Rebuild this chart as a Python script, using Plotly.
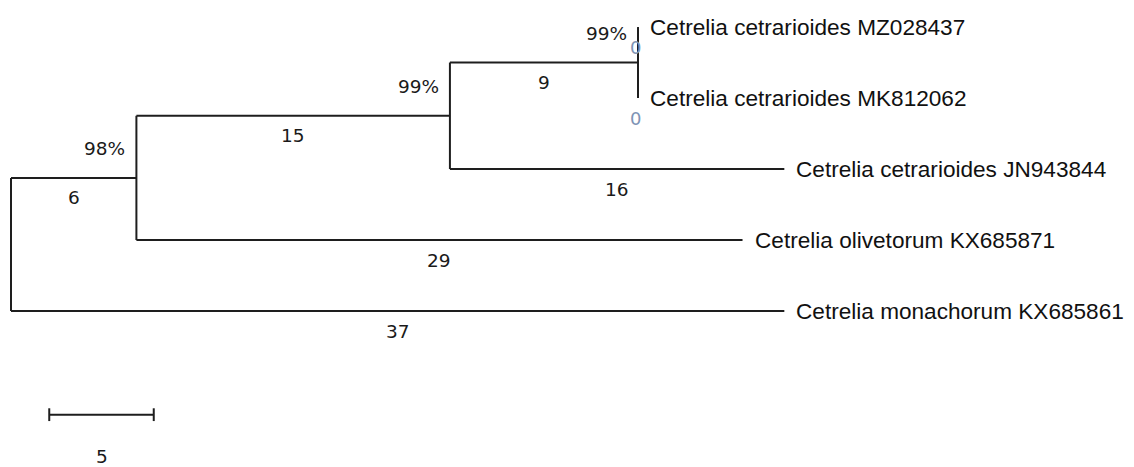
import plotly.graph_objects as go

# ---- tree data ----
node_names = ["root", "A", "B", "C",
              "Cetrelia cetrarioides MZ028437", "Cetrelia cetrarioides MK812062",
              "Cetrelia cetrarioides JN943844", "Cetrelia olivetorum KX685871",
              "Cetrelia monachorum KX685861"]
parents = [None, "root", "A", "B", "C", "C", "B", "A", "root"]
branch_lengths = [0, 6, 15, 9, 0, 0, 16, 29, 37]
bootstrap = {"A": "98%", "B": "99%", "C": "99%"}
leaf_order = ["Cetrelia cetrarioides MZ028437", "Cetrelia cetrarioides MK812062",
              "Cetrelia cetrarioides JN943844", "Cetrelia olivetorum KX685871",
              "Cetrelia monachorum KX685861"]
scale_length = 5
scale_label = "5"

# ---- layout computation ----
parent_of = dict(zip(node_names, parents))
bl_of = dict(zip(node_names, branch_lengths))
children = {n: [c for c in node_names if parent_of[c] == n] for n in node_names}

xpos = {}
def set_x(n, x):
    xpos[n] = x
    for c in children[n]:
        set_x(c, x + bl_of[c])
set_x("root", 0)

ypos = {}
def set_y(n):
    if not children[n]:
        ypos[n] = leaf_order.index(n)
    else:
        for c in children[n]:
            set_y(c)
        ys = [ypos[c] for c in children[n]]
        ypos[n] = (min(ys) + max(ys)) / 2
set_y("root")

xs, ys = [], []
for n in node_names:
    if children[n]:
        cy = [ypos[c] for c in children[n]]
        xs += [xpos[n], xpos[n], None]
        ys += [min(cy), max(cy), None]
    p = parent_of[n]
    if p is not None:
        xs += [xpos[p], xpos[n], None]
        ys += [ypos[n], ypos[n], None]

fig = go.Figure()
fig.add_trace(go.Scatter(x=xs, y=ys, mode="lines",
                         line=dict(color="#1e1e1e", width=2),
                         hoverinfo="skip", showlegend=False))

num_font = dict(family="DejaVu Sans", size=18.5, color="#1a1a1a")
leaf_font = dict(family="Liberation Sans, Arial", size=22.6, color="#111111")

for n in node_names:
    p = parent_of[n]
    if not children[n]:
        fig.add_annotation(x=xpos[n], y=ypos[n], text=n, showarrow=False,
                           xanchor="left", yanchor="middle", xshift=10,
                           font=leaf_font)
    if p is not None:
        if bl_of[n] == 0:
            fig.add_annotation(x=xpos[n], y=ypos[n], text=str(bl_of[n]), showarrow=False,
                               xanchor="center", yanchor="middle", xshift=-3, yshift=-20,
                               font=dict(family="DejaVu Sans", size=18, color="#7f93b5"))
        else:
            fig.add_annotation(x=(xpos[p] + xpos[n]) / 2, y=ypos[n], text=str(bl_of[n]),
                               showarrow=False, xanchor="center", yanchor="middle",
                               yshift=-20, font=num_font)
    if n in bootstrap:
        fig.add_annotation(x=xpos[n], y=ypos[n], text=bootstrap[n], showarrow=False,
                           xanchor="right", yanchor="middle", xshift=-9, yshift=29,
                           font=num_font)

# scale bar
sb_x0 = 1.83
sb_y = 5.46
fig.add_shape(type="line", x0=sb_x0, x1=sb_x0 + scale_length, y0=sb_y, y1=sb_y,
              line=dict(color="#1e1e1e", width=2))
for xx in (sb_x0, sb_x0 + scale_length):
    fig.add_shape(type="line", x0=xx, x1=xx, y0=sb_y - 0.09, y1=sb_y + 0.09,
                  line=dict(color="#1e1e1e", width=2))
fig.add_annotation(x=sb_x0 + scale_length / 2, y=sb_y, text=scale_label, showarrow=False,
                   xanchor="center", yanchor="middle", yshift=-42, font=num_font)

fig.update_layout(
    width=1126, height=459,
    margin=dict(l=0, r=0, t=0, b=0),
    paper_bgcolor="white", plot_bgcolor="white",
    xaxis=dict(range=[-0.1435, 53.73], visible=False, fixedrange=True),
    yaxis=dict(range=[6.197, -0.268], visible=False, fixedrange=True),
)

fig.write_html("out.html")
